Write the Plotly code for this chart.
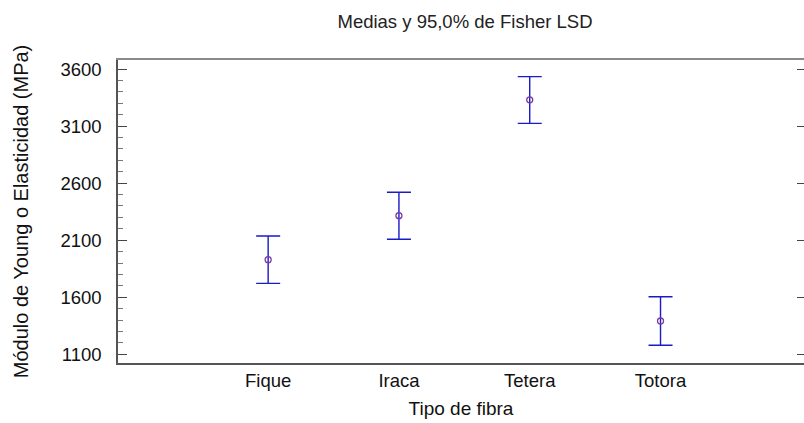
import plotly.graph_objects as go

categories = ["Fique", "Iraca", "Tetera", "Totora"]
means = [1929, 2315, 3330, 1392]
upper = [2137, 2520, 3533, 1605]
lower = [1722, 2108, 3124, 1179]
ytick_vals = [1100, 1600, 2100, 2600, 3100, 3600]

xpos = list(range(len(categories)))
err_plus = [u - m for u, m in zip(upper, means)]
err_minus = [m - l for m, l in zip(means, lower)]

font = "Liberation Sans, Arial, sans-serif"
yr = [1024, 3679]
xr = [-1.148, 4.097]

fig = go.Figure()
fig.add_trace(go.Scatter(
    x=xpos, y=means, mode="markers",
    marker=dict(symbol="circle-open", size=6, color="#7a3aa0", line=dict(width=1.3)),
    error_y=dict(type="data", symmetric=False, array=err_plus, arrayminus=err_minus,
                 color="#1a1ac8", thickness=1.4, width=12),
    showlegend=False, hoverinfo="skip",
))
fig.add_trace(go.Scatter(x=[None], y=[None], xaxis="x2", yaxis="y2",
                         showlegend=False, hoverinfo="skip"))

fig.update_layout(
    width=804, height=423,
    margin=dict(l=118, r=0, t=60, b=60, autoexpand=False),
    paper_bgcolor="white", plot_bgcolor="white",
    font=dict(family=font, color="#222222"),
    title=dict(text="Medias y 95,0% de Fisher LSD", x=465 / 804, xanchor="center",
               y=1 - 22 / 423, yanchor="middle", font=dict(size=18.5, color="#222222")),
    xaxis=dict(
        range=xr, tickvals=xpos, ticktext=categories, automargin=False,
        showgrid=False, zeroline=False, ticks="", showline=True,
        linecolor="#555555", linewidth=2,
        tickfont=dict(size=18.5, color="#111111"),
        title=dict(text="Tipo de fibra", font=dict(size=19, color="#111111"), standoff=11),
    ),
    xaxis2=dict(
        range=xr, overlaying="x", side="top", automargin=False,
        showgrid=False, zeroline=False, showticklabels=False, ticks="",
        showline=True, linecolor="#8a8a8a", linewidth=2,
    ),
    yaxis=dict(
        range=yr, tickvals=ytick_vals, showgrid=False, zeroline=False, automargin=False,
        showline=True, linecolor="#555555", linewidth=1.5,
        ticks="inside", ticklen=9, tickcolor="#444444", tickwidth=1,
        minor=dict(dtick=100, ticks="inside", ticklen=5, tickcolor="#777777", tickwidth=1),
        ticklabelstandoff=11,
        tickfont=dict(size=18.5, color="#111111"),
        title=dict(text="Módulo de Young o Elasticidad (MPa)", font=dict(size=20, color="#111111"), standoff=26),
    ),
    yaxis2=dict(
        range=yr, tickvals=ytick_vals, overlaying="y", side="right", automargin=False,
        showgrid=False, zeroline=False, showline=False, showticklabels=False,
        ticks="inside", ticklen=7, tickcolor="#444444", tickwidth=1,
    ),
)

fig.write_html("out.html", config={"displayModeBar": False},
               post_script="document.body.style.margin='0';")
